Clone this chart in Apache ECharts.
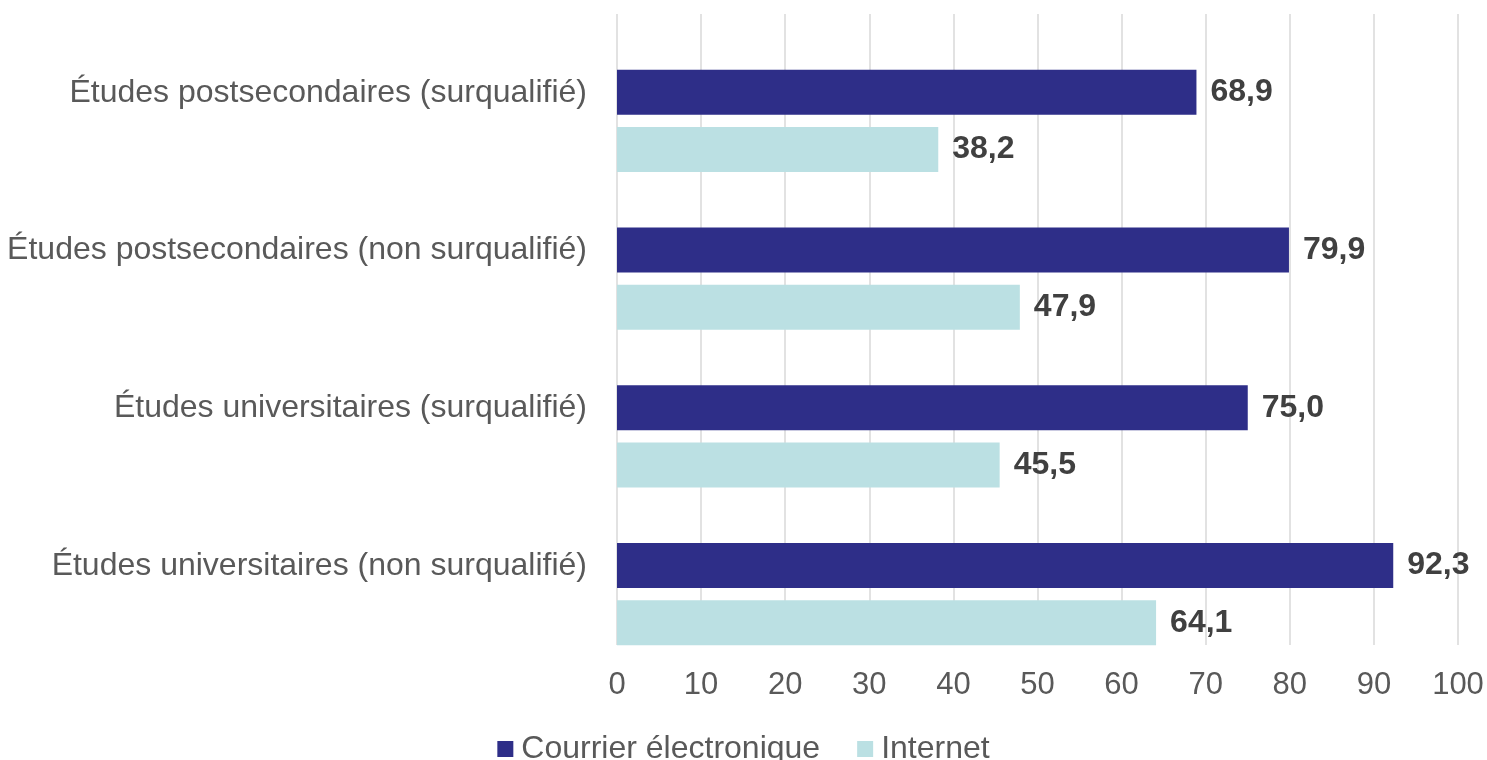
<!DOCTYPE html>
<html>
<head>
<meta charset="utf-8">
<script src="https://cdn.jsdelivr.net/npm/echarts@6/dist/echarts.min.js"></script>
<style>
  html, body { margin: 0; padding: 0; background: #ffffff; }
  #chart { width: 1487px; height: 760px; }
</style>
</head>
<body>
<div id="chart"></div>
<script>
// Niveau d'études, listé de haut en bas
const categories = [
  'Études postsecondaires (surqualifié)',
  'Études postsecondaires (non surqualifié)',
  'Études universitaires (surqualifié)',
  'Études universitaires (non surqualifié)'
];
const seriesNames = ['Courrier électronique', 'Internet'];
const courrierValues = [68.9, 79.9, 75.0, 92.3];
const internetValues = [38.2, 47.9, 45.5, 64.1];
const xTicks = { min: 0, max: 100, interval: 10 };

const FONT = '"Liberation Sans", Arial, sans-serif';
const fmt = v => v.toFixed(1).replace('.', ',');

const labelStyle = {
  show: true,
  position: 'right',
  distance: 14,
  fontFamily: FONT,
  fontSize: 32,
  fontWeight: 'bold',
  color: '#404040',
  formatter: p => fmt(p.value)
};

const chart = echarts.init(document.getElementById('chart'), null, { renderer: 'canvas' });
chart.setOption({
  animation: false,
  backgroundColor: '#ffffff',
  textStyle: { fontFamily: FONT },
  // grid 0: quadrillage, graduations et libellés de catégories
  // grid 1: barres, décalées vers le bas de chaque bande
  grid: [
    { left: 617, right: 29, top: 14, bottom: 115, containLabel: false },
    { left: 617, right: 29, top: 42, bottom: 87, containLabel: false }
  ],
  legend: {
    data: seriesNames,
    top: 728,
    left: 'center',
    itemWidth: 16,
    itemHeight: 16,
    itemGap: 37,
    icon: 'rect',
    textStyle: { fontFamily: FONT, fontSize: 32, color: '#595959', padding: [0, 0, 0, 3] }
  },
  xAxis: [
    {
      type: 'value',
      gridIndex: 0,
      min: xTicks.min,
      max: xTicks.max,
      interval: xTicks.interval,
      axisLine: { show: false },
      axisTick: { show: false },
      splitLine: { show: true, lineStyle: { color: '#d9d9d9', width: 1.5 } },
      axisLabel: { fontFamily: FONT, fontSize: 31, color: '#595959', margin: 25 }
    },
    {
      type: 'value',
      gridIndex: 1,
      min: xTicks.min,
      max: xTicks.max,
      interval: xTicks.interval,
      show: false
    }
  ],
  yAxis: [
    {
      type: 'category',
      gridIndex: 0,
      inverse: true,
      data: categories,
      axisLine: { show: false },
      axisTick: { show: false },
      axisLabel: { fontFamily: FONT, fontSize: 32, color: '#595959', margin: 30 }
    },
    {
      type: 'category',
      gridIndex: 1,
      inverse: true,
      data: categories,
      show: false
    }
  ],
  series: [
    {
      name: seriesNames[0],
      type: 'bar',
      xAxisIndex: 1,
      yAxisIndex: 1,
      data: courrierValues,
      barWidth: 45,
      barGap: '27%',
      itemStyle: { color: '#2e2e88' },
      label: labelStyle
    },
    {
      name: seriesNames[1],
      type: 'bar',
      xAxisIndex: 1,
      yAxisIndex: 1,
      data: internetValues,
      barWidth: 45,
      barGap: '27%',
      itemStyle: { color: '#bbe0e3' },
      label: labelStyle
    }
  ]
});
</script>
</body>
</html>
